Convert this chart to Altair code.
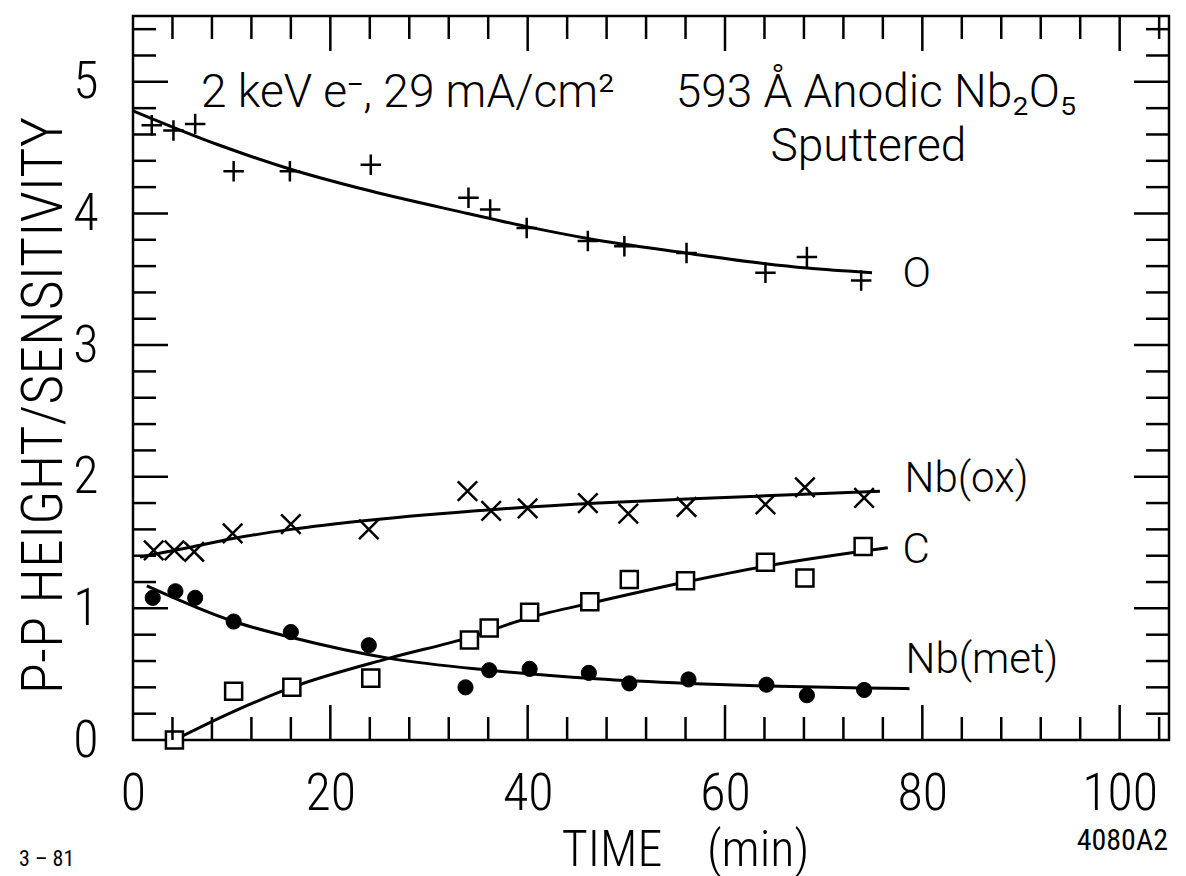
import altair as alt
import pandas as pd

# ---------------- data ----------------
# O  (+ markers)
o_time = [1.9, 4.1, 6.3, 10.2, 15.9, 24.1, 34.0, 36.2, 39.9, 46.1, 49.8, 56.1, 64.1, 68.3, 73.8]
o_val = [4.67, 4.63, 4.68, 4.32, 4.32, 4.37, 4.12, 4.03, 3.89, 3.79, 3.75, 3.70, 3.55, 3.67, 3.49]
o_fit_time = [0.0, 8.7, 15.8, 24.1, 33.9, 39.9, 46.1, 56.0, 63.9, 68.3, 74.9]
o_fit_val = [4.78, 4.52, 4.34, 4.17, 4.00, 3.90, 3.81, 3.70, 3.62, 3.585, 3.55]

# Nb(ox)  (x markers)
nbox_time = [2.1, 4.2, 6.2, 10.1, 16.0, 23.9, 33.9, 36.3, 40.0, 46.1, 50.2, 56.1, 64.1, 68.1, 74.1]
nbox_val = [1.44, 1.44, 1.43, 1.57, 1.64, 1.60, 1.89, 1.74, 1.76, 1.80, 1.72, 1.77, 1.79, 1.92, 1.84]
nbox_fit_time = [0.7, 6.2, 10.1, 16.0, 23.9, 36.3, 47.2, 56.1, 64.1, 75.7]
nbox_fit_val = [1.39, 1.47, 1.53, 1.60, 1.67, 1.75, 1.80, 1.83, 1.855, 1.89]

# C  (open squares)
c_time = [4.2, 10.2, 16.1, 24.1, 34.1, 36.1, 40.2, 46.3, 50.3, 56.0, 64.1, 68.1, 74.0]
c_val = [0.0, 0.37, 0.40, 0.47, 0.76, 0.85, 0.97, 1.05, 1.22, 1.21, 1.35, 1.23, 1.47]
c_fit_time = [4.2, 10.0, 16.1, 25.9, 34.1, 40.2, 47.0, 56.0, 64.1, 76.5]
c_fit_val = [0.0, 0.21, 0.40, 0.62, 0.78, 0.93, 1.05, 1.20, 1.32, 1.46]

# Nb(met)  (filled circles)
nbmet_time = [2.0, 4.3, 6.3, 10.2, 16.0, 23.9, 33.7, 36.1, 40.2, 46.2, 50.3, 56.3, 64.2, 68.3, 74.1]
nbmet_val = [1.08, 1.13, 1.08, 0.90, 0.82, 0.72, 0.40, 0.53, 0.54, 0.51, 0.43, 0.46, 0.42, 0.34, 0.38]
nbmet_fit_time = [1.4, 10.2, 16.0, 26.0, 36.1, 46.9, 56.3, 64.2, 74.1, 78.7]
nbmet_fit_val = [1.17, 0.90, 0.78, 0.62, 0.53, 0.465, 0.43, 0.41, 0.395, 0.39]

series_names = ["O", "Nb(ox)", "C", "Nb(met)"]
label_time = [78.0, 78.2, 78.0, 78.3]
label_val = [3.54, 1.98, 1.44, 0.61]

x_tick_labels = [0, 20, 40, 60, 80, 100]
y_tick_labels = [0, 1, 2, 3, 4, 5]
x_minor = [v for v in range(4, 105, 4) if v % 20 != 0]
x_major = [20, 40, 60, 80, 100]
y_minor = [round(i * 0.2, 1) for i in range(1, 28) if i % 5 != 0]
y_major = [1, 2, 3, 4, 5]

header_text = ["2 keV e\u207b, 29 mA/cm\u00b2", "593 \u00c5 Anodic Nb\u2082O\u2085", "Sputtered"]
header_time = [6.9, 55.0, 64.6]
header_val = [4.81, 4.81, 4.40]

# ---------------- layout / style ----------------
W, H = 1036, 724
AXFONT = "Roboto Condensed, Roboto, DejaVu Sans Condensed, sans-serif"
TXFONT = "Roboto, DejaVu Sans, sans-serif"
MINOR, MAJOR = 23, 35

xs = alt.Scale(domain=[0, 105], nice=False, zero=False)
ys = alt.Scale(domain=[0, 5.5], nice=False, zero=False)

x_axis = alt.Axis(values=x_tick_labels, ticks=False, domain=False, grid=False,
                  labelFont=AXFONT, labelFontSize=52, labelFontWeight=300, labelColor="black",
                  labelPadding=28, labelFlush=False, labelOverlap=False,
                  title="TIME\u2002\u2002(min)", titleFont=AXFONT, titleFontSize=50,
                  titleFontWeight=300, titleColor="black",
                  titleX=552, titleY=125, titleAlign="center", titleBaseline="alphabetic")
y_axis = alt.Axis(values=y_tick_labels, ticks=False, domain=False, grid=False,
                  labelFont=AXFONT, labelFontSize=52, labelFontWeight=300, labelColor="black",
                  labelPadding=35, labelFlush=False, labelOverlap=False,
                  title="P-P HEIGHT/SENSITIVITY", titleFont=AXFONT, titleFontSize=58,
                  titleFontWeight=300, titleColor="black", titleAngle=270,
                  titleX=-89, titleY=389, titleAlign="center", titleBaseline="middle")


def X(field):
    return alt.X(f"{field}:Q", scale=xs, axis=x_axis)


def Y(field):
    return alt.Y(f"{field}:Q", scale=ys, axis=y_axis)


def pts(t, v):
    return pd.DataFrame({"t": t, "v": v})


lw = 3
layers = []

# fitted curves
for ft, fv in [(o_fit_time, o_fit_val), (nbox_fit_time, nbox_fit_val),
               (c_fit_time, c_fit_val), (nbmet_fit_time, nbmet_fit_val)]:
    layers.append(alt.Chart(pts(ft, fv)).mark_line(color="black", strokeWidth=lw,
                                                    interpolate="monotone")
                  .encode(x=X("t"), y=Y("v")))

# markers
plus_path = "M-1,0L1,0M0,-1L0,1"
cross_path = "M-1,-1L1,1M-1,1L1,-1"
layers.append(alt.Chart(pts(o_time, o_val)).mark_point(shape=plus_path, filled=False,
              stroke="black", strokeWidth=2.5, size=420, opacity=1)
              .encode(x=X("t"), y=Y("v")))
layers.append(alt.Chart(pts(nbox_time, nbox_val)).mark_point(shape=cross_path, filled=False,
              stroke="black", strokeWidth=2.5, size=380, opacity=1)
              .encode(x=X("t"), y=Y("v")))
layers.append(alt.Chart(pts(c_time, c_val)).mark_point(shape="square", filled=True,
              fill="white", stroke="black", strokeWidth=2.5, size=290, opacity=1)
              .encode(x=X("t"), y=Y("v")))
layers.append(alt.Chart(pts(nbmet_time, nbmet_val)).mark_point(shape="circle", filled=True,
              fill="black", stroke="black", strokeWidth=1, size=230, opacity=1)
              .encode(x=X("t"), y=Y("v")))

# series labels
lab_df = pd.DataFrame({"name": series_names, "t": label_time, "v": label_val})
layers.append(alt.Chart(lab_df).mark_text(font=TXFONT, fontSize=42, fontWeight=300,
              align="left", baseline="middle", color="black")
              .encode(x=X("t"), y=Y("v"), text="name:N"))

# header annotations
hdr_df = pd.DataFrame({"txt": header_text, "t": header_time, "v": header_val})
layers.append(alt.Chart(hdr_df).mark_text(font=TXFONT, fontSize=46, fontWeight=300,
              align="left", baseline="alphabetic", color="black")
              .encode(x=X("t"), y=Y("v"), text="txt:N"))

# inward ticks on all four sides
for vals, ln in [(x_minor, MINOR), (x_major, MAJOR)]:
    d = pd.DataFrame({"t": vals})
    layers.append(alt.Chart(d).mark_rule(color="black", strokeWidth=2.5)
                  .encode(x=X("t"), y=alt.value(H), y2=alt.value(H - ln)))
    layers.append(alt.Chart(d).mark_rule(color="black", strokeWidth=2.5)
                  .encode(x=X("t"), y=alt.value(0), y2=alt.value(ln)))
for vals, ln in [(y_minor, MINOR), (y_major, MAJOR)]:
    d = pd.DataFrame({"v": vals})
    layers.append(alt.Chart(d).mark_rule(color="black", strokeWidth=2.5)
                  .encode(y=Y("v"), x=alt.value(0), x2=alt.value(ln)))
    layers.append(alt.Chart(d).mark_rule(color="black", strokeWidth=2.5)
                  .encode(y=Y("v"), x=alt.value(W), x2=alt.value(W - ln)))

# figure ids outside the frame
ids = pd.DataFrame({"txt": ["3 \u2013 81"]})
layers.append(alt.Chart(ids).mark_text(font=AXFONT, fontSize=22, align="left",
              baseline="alphabetic", color="black")
              .encode(x=alt.value(-114), y=alt.value(850), text="txt:N"))
ids2 = pd.DataFrame({"txt": ["4080A2"]})
layers.append(alt.Chart(ids2).mark_text(font=AXFONT, fontSize=30, align="right",
              baseline="alphabetic", color="black")
              .encode(x=alt.value(1035), y=alt.value(834), text="txt:N"))

chart = (alt.layer(*layers)
         .properties(width=W, height=H,
                     autosize=alt.AutoSizeParams(type="none"),
                     padding={"left": 125, "top": 8, "right": 9, "bottom": 142},
                     background="white")
         .configure_view(stroke="black", strokeWidth=2.5))

chart.save("out.html", embed_options={"renderer": "svg", "actions": False})
